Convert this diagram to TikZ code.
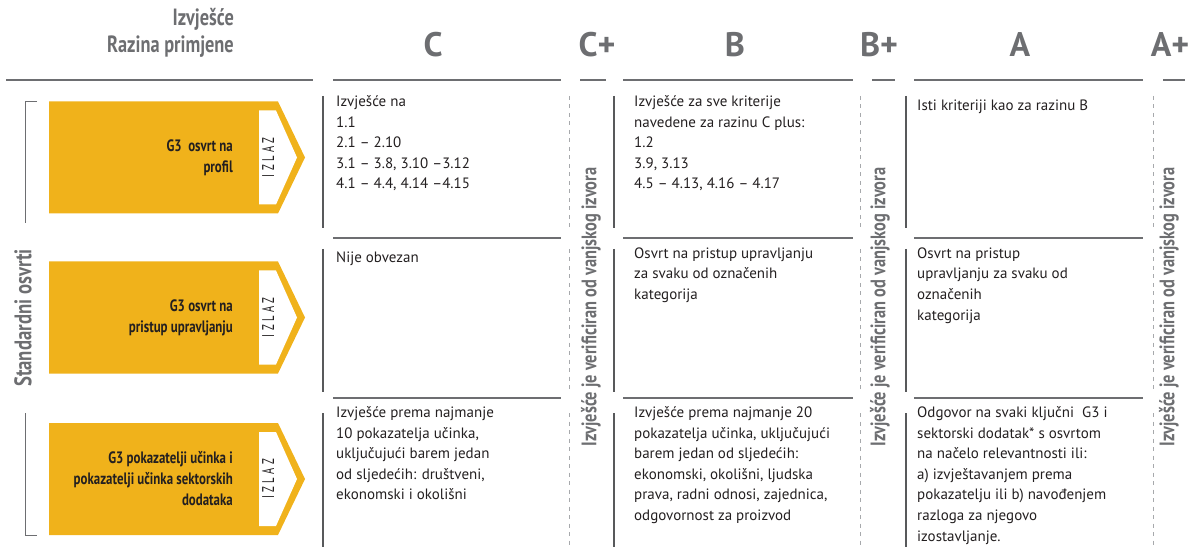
\documentclass[tikz,border=0pt]{standalone}
\usepackage{fontspec}
\setmainfont{PT Sans}
\newfontfamily\uskifont{PT Sans}[FakeStretch=0.78]
\newfontfamily\izlazfont{PT Sans}[FakeStretch=0.62,LetterSpace=20]
\definecolor{zlato}{HTML}{F0B21B}
\definecolor{siva}{HTML}{6D6E71}
\definecolor{tinta}{HTML}{231F20}
\definecolor{tamna}{HTML}{58595B}
\definecolor{svijetla}{HTML}{A7A9AC}
\def\izlazarrow(#1)#2#3{%
  \fill[zlato] (49,#1-56) -- (278,#1-56) -- (305,#1) -- (278,#1+56) -- (49,#1+56) -- cycle;
  \fill[white] (259,#1-47) -- (276,#1-47) -- (297,#1) -- (276,#1+47) -- (259,#1+47) -- cycle;
  \node[izlaz] (#2-out) at (268,#1) {IZLAZ};
  \node[oznaka] (#2) at (233,#1) {#3};}

\begin{document}
\begin{tikzpicture}[x=1pt,y=-1pt,
  crta/.style={siva,line width=1.1pt},
  stup/.style={tamna,line width=1.4pt},
  isprek/.style={svijetla,line width=1pt,dash pattern=on 4pt off 4.5pt},
  naslov/.style={siva,anchor=base east,inner sep=0,font=\fontsize{23.5}{23.5}\uskifont\bfseries},
  razina/.style={siva,anchor=base,inner sep=0,font=\fontsize{34}{34}\bfseries},
  okomit/.style={siva,rotate=90,inner sep=0,font=\fontsize{21}{21}\uskifont\bfseries},
  oznaka/.style={tinta,anchor=east,align=right,inner sep=0,font=\fontsize{16.5}{21}\uskifont\bfseries},
  izlaz/.style={tinta,rotate=90,inner sep=0,font=\fontsize{17}{17}\izlazfont},
  celija/.style={tinta,anchor=north west,align=left,inner sep=0,font=\fontsize{15}{20.6}\selectfont,
    execute at begin node=\strut}]
		%%%%% START %%%%%
		\useasboundingbox (0,0) rectangle (1194,553);
		
		% header
		\node[naslov] (izvj) at (234,26) {Izvješće};
		\node[naslov] (primj) at (234,53) {Razina primjene};
		\node[razina] (lvC) at (433,57) {C};
		\node[razina] (lvCp) at (597,57) {C+};
		\node[razina] (lvB) at (735,57) {B};
		\node[razina] (lvBp) at (879,57) {B+};
		\node[razina] (lvA) at (1020,57) {A};
		\node[razina] (lvAp) at (1170,57) {A+};
		
		\draw[crta] (6,80) -- (313,80) (333,80) -- (561,80) (580,80) -- (606,80)
		  (623,80) -- (853,80) (872,80) -- (895,80) (914,80) -- (1143,80) (1163,80) -- (1185,80);
		\draw[crta] (333,238) -- (561,238) (623,238) -- (853,238) (914,238) -- (1143,238);
		\draw[crta] (333,398) -- (561,398) (623,398) -- (853,398) (914,398) -- (1143,398);
		
		% left bracket
		\node[okomit,font=\fontsize{24}{24}\uskifont\bfseries] (std) at (23,318) {Standardni osvrti};
		\draw[crta,line width=1pt] (37,102) -- (25,102) -- (25,223);
		\draw[crta,line width=1pt] (25,413) -- (25,535) -- (37,535);
		
		% arrows
		\izlazarrow(157.5){pr}{G3\ \ osvrt na\\profil}
		\izlazarrow(317.5){up}{G3 osvrt na\\pristup upravljanju}
		\izlazarrow(479){pk}{G3 pokazatelji učinka i\\pokazatelji učinka sektorskih\\dodataka}
		
		% columns
		\draw[stup] (323,96) -- (323,228) (323,249) -- (323,392) (323,413) -- (323,547);
		\draw[stup] (614,96) -- (614,228) (614,249) -- (614,392) (614,413) -- (614,547);
		\draw[stup] (906,96) -- (906,228) (906,249) -- (906,392) (906,413) -- (906,547);
		\draw[isprek] (569,96) -- (569,228) (569,249) -- (569,392) (569,413) -- (569,547);
		\draw[isprek] (860,96) -- (860,228) (860,249) -- (860,392) (860,413) -- (860,547);
		\draw[isprek] (1153,96) -- (1153,228) (1153,249) -- (1153,392) (1153,413) -- (1153,547);
		
		\node[okomit] (verC) at (591,307) {Izvješće je verificiran od vanjskog izvora};
		\node[okomit] (verB) at (880,307) {Izvješće je verificiran od vanjskog izvora};
		\node[okomit] (verA) at (1169,307) {Izvješće je verificiran od vanjskog izvora};
		
		% cells
		\node[celija] (c1) at (336,95.4) {Izvješće na\\1.1\\2.1 – 2.10\\3.1 – 3.8, 3.10 –3.12\\4.1 – 4.4, 4.14 –4.15};
		\node[celija] (b1) at (634,95.4) {Izvješće za sve kriterije\\navedene za razinu C plus:\\1.2\\3.9, 3.13\\4.5 – 4.13, 4.16 – 4.17};
		\node[celija] (a1) at (917,95.4) {Isti kriteriji kao za razinu B};
		
		\node[celija] (c2) at (336,247.4) {Nije obvezan};
		\node[celija] (b2) at (634,247.4) {Osvrt na pristup upravljanju\\za svaku od označenih\\kategorija};
		\node[celija] (a2) at (917,247.4) {Osvrt na pristup\\upravljanju za svaku od\\označenih\\kategorija};
		
		\node[celija] (c3) at (336,406.4) {Izvješće prema najmanje\\10 pokazatelja učinka,\\uključujući barem jedan\\od sljedećih: društveni,\\ekonomski i okolišni};
		\node[celija] (b3) at (634,406.4) {Izvješće prema najmanje 20\\pokazatelja učinka, uključujući\\barem jedan od sljedećih:\\ekonomski, okolišni, ljudska\\prava, radni odnosi, zajednica,\\odgovornost za proizvod};
		\node[celija] (a3) at (917,406.4) {Odgovor na svaki ključni\ \ G3 i\\sektorski dodatak* s osvrtom\\na načelo relevantnosti ili:\\a) izvještavanjem prema\\pokazatelju ili b) navođenjem\\razloga za njegovo\\izostavljanje.};
		%%%%% END %%%%%
\end{tikzpicture}
\end{document}
